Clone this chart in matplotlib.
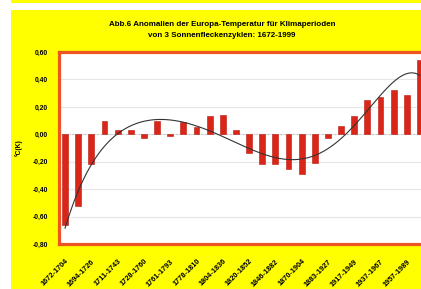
import numpy as np
import matplotlib
matplotlib.use("Agg")
import matplotlib.pyplot as plt
from matplotlib.patches import Rectangle

plt.rcParams['font.family'] = ['Liberation Sans', 'DejaVu Sans']

# Anomalien je Klimaperiode (3 Sonnenfleckenzyklen), in °C
anomalies = [-0.66, -0.52, -0.22, 0.10, 0.03, 0.03, -0.03, 0.10,
             -0.01, 0.09, 0.055, 0.13, 0.14, 0.03, -0.14, -0.215,
             -0.22, -0.25, -0.29, -0.21, -0.03, 0.06, 0.13, 0.25,
             0.27, 0.32, 0.29, 0.54]

period_labels = ["1672-1704", "1694-1726", "1711-1743", "1728-1760",
                 "1761-1793", "1778-1810", "1804-1836", "1820-1852",
                 "1846-1882", "1870-1904", "1883-1927", "1917-1949",
                 "1937-1967", "1957-1989"]

yticks = [-0.8, -0.6, -0.4, -0.2, 0.0, 0.2, 0.4, 0.6]

title = ("Abb.6 Anomalien der Europa-Temperatur für Klimaperioden\n"
         "von 3 Sonnenfleckenzyklen: 1672-1999")

W, H = 421, 289
fig = plt.figure(figsize=(W / 100, H / 100), dpi=100)
fig.patch.set_facecolor("white")

# yellow background panel
fig.patches.append(Rectangle((11 / W, 0), 1, (H - 10) / H, transform=fig.transFigure,
                             facecolor="#FFFF00", edgecolor="none", zorder=-5))
fig.patches.append(Rectangle((11 / W, (H - 3) / H), 1, 3 / H, transform=fig.transFigure,
                             facecolor="#FFFF00", edgecolor="none", zorder=-5))

x = np.arange(len(anomalies))
# plot area: x from 59 px to ~426 px (cropped), y from 52 px to 244 px
left, right = 59, 426
top, bottom = 52, 244
ax = fig.add_axes([left / W, (H - bottom) / H, (right - left) / W, (bottom - top) / H])
ax.set_zorder(2)
ax.set_facecolor("white")

ax.bar(x, anomalies, width=0.45, color="#DA2519", edgecolor="#B8180E", linewidth=0.4, zorder=3)

# polynomial trend line (like the Excel trendline)
coef = np.polyfit(x, anomalies, 6)
xs = np.linspace(0, len(anomalies) - 1, 300)
ax.plot(xs, np.polyval(coef, xs), color="#333333", linewidth=0.8, zorder=4)

ax.set_xlim(-0.46, len(anomalies) - 0.54)
ax.set_ylim(-0.8, 0.6)
ax.set_yticks(yticks)
ax.set_yticklabels([f"{v:.2f}".replace(".", ",") for v in yticks],
                   fontsize=4.9, fontweight="bold")
ax.yaxis.grid(True, color="#E6E6E6", linewidth=0.8, zorder=0)
ax.axhline(0, color="#BBBBBB", linewidth=0.6, linestyle=(0, (2, 3)), zorder=2)
ax.tick_params(axis="y", length=0, pad=8)

ax.set_xticks(x[::2])
ax.set_xticklabels(period_labels, rotation=45, ha="right", rotation_mode="anchor",
                   fontsize=5.3, fontweight="bold")
ax.tick_params(axis="x", length=0, pad=10)

for s in ax.spines.values():
    s.set_color("#EE5522")
    s.set_linewidth(2.3)

ax.set_ylabel("°C(K)", fontsize=4.8, fontweight="bold", labelpad=7)

fig.text(222 / W, 1 - 30 / H, title, ha="center", va="center", fontsize=5.8,
         fontweight="bold", linespacing=1.7)

fig.savefig("out.png", dpi=100, facecolor=fig.get_facecolor())
